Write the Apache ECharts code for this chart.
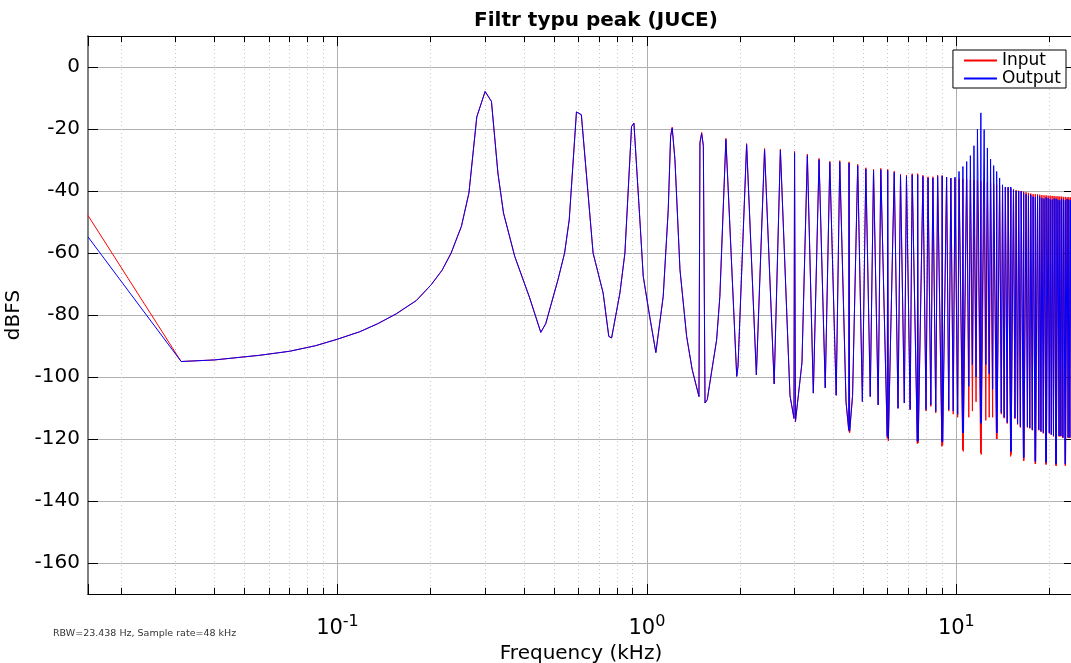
<!DOCTYPE html>
<html>
<head>
<meta charset="utf-8">
<script src="https://cdn.jsdelivr.net/npm/echarts@6.0.0/dist/echarts.min.js"></script>
<style>
  html, body { margin: 0; padding: 0; background: #fff; }
  #chart { width: 1071px; height: 663px; }
</style>
</head>
<body>
<div id="chart"></div>
<script>
// spectrum points (frequency in kHz, level in dBFS)
const freqKHz = [
  0.015625, 0.03125, 0.04, 0.056, 0.07, 0.085, 0.1, 0.118, 0.135, 0.155,
  0.18, 0.201, 0.218, 0.233, 0.2515, 0.266, 0.282, 0.3, 0.3145, 0.33,
  0.344, 0.374, 0.418, 0.454, 0.471, 0.516, 0.542, 0.561, 0.592, 0.614,
  0.637, 0.67, 0.722, 0.753, 0.769, 0.818, 0.849, 0.892, 0.908, 0.949,
  0.973, 1.023, 1.069, 1.08, 1.129, 1.172, 1.193, 1.207, 1.232, 1.279,
  1.344, 1.4, 1.473, 1.484, 1.503, 1.522, 1.541, 1.567, 1.62, 1.68,
  1.721, 1.8, 1.951, 1.97, 2.1, 2.258, 2.4, 2.578, 2.7, 2.9,
  2.987, 3.0, 3.02, 3.17, 3.3, 3.45, 3.6, 3.77, 3.9, 4.09,
  4.2, 4.4, 4.49, 4.5, 4.52, 4.62, 4.8, 4.97, 5.1, 5.27,
  5.4, 5.59, 5.7, 5.98, 6.0, 6.03, 6.3, 6.48, 6.6, 6.79,
  6.9, 7.09, 7.2, 7.48, 7.5, 7.53, 7.8, 7.98, 8.1, 8.27,
  8.4, 8.58, 8.7, 8.98, 9.0, 9.03, 9.3, 9.45, 9.6, 9.77,
  9.9, 10.1, 10.2, 10.48, 10.5, 10.53, 10.8, 10.97, 11.1, 11.27,
  11.4, 11.58, 11.7, 11.98, 12.0, 12.03, 12.3, 12.45, 12.6, 12.77,
  12.9, 13.1, 13.2, 13.48, 13.5, 13.53, 13.8, 13.97, 14.1, 14.27,
  14.4, 14.6, 14.7, 14.98, 15.0, 15.03, 15.3, 15.47, 15.6, 15.77,
  15.9, 16.1, 16.2, 16.48, 16.5, 16.53, 16.8, 16.97, 17.1, 17.27,
  17.4, 17.6, 17.7, 17.98, 18.0, 18.03, 18.3, 18.47, 18.6, 18.77,
  18.9, 19.1, 19.2, 19.48, 19.5, 19.53, 19.8, 19.97, 20.1, 20.27,
  20.4, 20.6, 20.7, 20.98, 21.0, 21.03, 21.3, 21.47, 21.6, 21.77,
  21.9, 22.1, 22.2, 22.48, 22.5, 22.53, 22.8, 22.97, 23.1, 23.27,
  23.4, 23.6, 23.7, 23.98
];

const inputDb = [
  -47.9, -95.0, -94.5, -93.0, -91.7, -89.9, -87.8, -85.4, -82.8, -79.6,
  -75.3, -70.2, -65.5, -60.0, -51.4, -40.6, -16.1, -7.9, -11.1, -34.2,
  -47.1, -61.1, -74.5, -85.6, -82.8, -68.6, -60.0, -49.3, -14.5, -15.4,
  -34.2, -60.0, -72.9, -86.9, -87.4, -72.9, -60.0, -19.2, -18.1, -49.3,
  -67.5, -81.0, -92.1, -92.1, -74.0, -46.0, -22.2, -19.4, -29.9, -65.4,
  -86.9, -97.5, -106.3, -24.2, -21.1, -25.3, -108.4, -107.3, -98.0, -88.0,
  -74.0, -23.0, -99.8, -96.5, -24.7, -99.3, -26.3, -102.2, -26.5, -106.0,
  -113.5, -27.2, -114.5, -95.4, -28.1, -105.2, -29.5, -103.5, -30.4, -105.9,
  -30.2, -108.0, -117.5, -30.6, -118.0, -106.0, -31.4, -107.9, -32.5, -106.3,
  -33.0, -109.0, -32.7, -119.8, -33.0, -120.6, -33.6, -110.1, -34.6, -108.4,
  -34.9, -110.5, -34.4, -121.5, -34.4, -121.3, -34.9, -111.0, -35.4, -109.5,
  -35.4, -111.6, -34.9, -122.4, -35.0, -122.0, -35.6, -111.0, -35.9, -112.0,
  -36.0, -113.0, -36.0, -123.5, -36.1, -124.0, -36.2, -113.0, -36.3, -111.0,
  -36.5, -108.0, -36.6, -124.5, -36.8, -125.0, -37.0, -114.0, -37.2, -113.0,
  -37.5, -113.0, -37.8, -120.0, -38.0, -120.0, -38.3, -112.0, -38.6, -113.3,
  -38.8, -115.0, -39.0, -125.6, -39.2, -125.0, -39.5, -113.5, -39.7, -115.3,
  -39.9, -116.3, -40.0, -127.0, -40.2, -127.0, -40.4, -116.3, -40.6, -116.6,
  -40.8, -117.2, -41.0, -128.0, -41.0, -128.0, -41.1, -117.2, -41.2, -117.7,
  -41.3, -118.2, -41.4, -128.2, -41.4, -128.2, -41.5, -118.2, -41.5, -118.7,
  -41.6, -119.2, -41.6, -128.6, -41.7, -128.6, -41.7, -119.2, -41.8, -119.2,
  -41.8, -119.7, -41.9, -128.6, -41.9, -128.6, -42.0, -119.7, -42.0, -119.7,
  -42.1, -120.2, -42.1, -128.6
];

const outputDb = [
  -54.8, -95.0, -94.5, -93.0, -91.7, -89.9, -87.8, -85.4, -82.8, -79.6,
  -75.3, -70.2, -65.5, -60.0, -51.4, -40.6, -16.1, -7.9, -11.1, -34.2,
  -47.1, -61.1, -74.5, -85.6, -82.8, -68.6, -60.0, -49.3, -14.5, -15.4,
  -34.2, -60.0, -72.9, -86.9, -87.4, -72.9, -60.0, -19.2, -18.1, -49.3,
  -67.5, -81.0, -92.1, -92.1, -74.0, -46.0, -22.4, -19.7, -29.9, -65.4,
  -86.9, -97.5, -106.3, -24.5, -21.5, -25.6, -108.4, -107.3, -98.0, -88.0,
  -74.0, -23.4, -99.8, -96.5, -25.1, -99.3, -26.7, -102.2, -26.9, -106.0,
  -113.2, -27.7, -114.3, -95.4, -28.6, -105.2, -29.9, -103.5, -30.8, -105.9,
  -30.6, -108.0, -117.0, -31.0, -117.5, -106.0, -31.8, -107.9, -32.9, -106.3,
  -33.4, -109.0, -33.1, -119.2, -33.4, -120.0, -34.0, -110.1, -35.0, -108.4,
  -35.3, -110.5, -34.8, -120.8, -34.8, -120.5, -35.3, -110.5, -35.8, -109.0,
  -35.8, -111.1, -35.3, -120.8, -35.1, -121.0, -35.5, -110.5, -35.8, -111.0,
  -35.5, -112.0, -33.7, -118.0, -32.1, -118.0, -30.5, -103.0, -28.6, -96.0,
  -25.4, -100.0, -20.0, -114.7, -14.8, -115.0, -20.2, -96.0, -26.1, -99.0,
  -29.7, -104.0, -31.8, -118.0, -33.7, -118.0, -35.8, -111.5, -38.0, -113.0,
  -38.7, -114.7, -38.7, -124.0, -38.7, -124.0, -39.6, -113.2, -40.0, -115.0,
  -40.0, -116.0, -40.1, -126.0, -40.5, -126.0, -41.0, -116.0, -41.5, -116.4,
  -41.2, -117.0, -41.8, -127.2, -42.0, -127.2, -41.5, -117.0, -41.8, -117.5,
  -42.3, -118.0, -42.5, -127.5, -42.0, -127.5, -42.3, -118.0, -42.6, -118.5,
  -42.8, -119.0, -42.4, -128.0, -42.5, -128.0, -42.8, -119.0, -43.0, -119.0,
  -42.5, -119.5, -42.8, -128.0, -43.0, -128.0, -42.6, -119.5, -42.8, -119.5,
  -43.0, -120.0, -42.8, -128.0
];

// axis ranges and the dotted minor grid positions of the log axis
const xMinKHz = 0.015625;
const xMaxKHz = 24;
const yMinDb = -170;
const yMaxDb = 10;
const minorTickKHz = [
  0.02, 0.03, 0.04, 0.05, 0.06, 0.07, 0.08, 0.09,
  0.2, 0.3, 0.4, 0.5, 0.6, 0.7, 0.8, 0.9,
  2, 3, 4, 5, 6, 7, 8, 9,
  20
];

const FONT = 'DejaVu Sans';

let chart = echarts.init(document.getElementById('chart'));

let minorLines = [];
minorTickKHz.forEach(f => {
    minorLines.push({
        xAxis: f,
        lineStyle: {color: '#c4c4c4', width: 1, type: [1, 3]}
    });
    minorLines.push([
        {coord: [f, yMaxDb], lineStyle: {color: '#000', width: 1, type: 'solid'}},
        {coord: [f, yMaxDb - 2]}
    ]);
    minorLines.push([
        {coord: [f, yMinDb], lineStyle: {color: '#000', width: 1, type: 'solid'}},
        {coord: [f, yMinDb + 2]}
    ]);
});

function decadeLabel(v) {
    let e = Math.log10(v);
    let r = Math.round(e);
    if (Math.abs(e - r) > 1e-6) {
        return '';
    }
    return '{b|10}{s|' + r + '}';
}

chart.setOption({
    animation: false,
    backgroundColor: '#fff',
    title: {
        text: 'Filtr typu peak (JUCE)',
        left: 591,
        top: 6,
        textAlign: 'center',
        textStyle: {
            fontFamily: FONT,
            fontSize: 20,
            fontWeight: 'bold',
            color: '#000'
        }
    },
    legend: {
        data: ['Input', 'Output'],
        orient: 'vertical',
        right: 5,
        top: 50,
        backgroundColor: '#fff',
        borderColor: '#000',
        borderWidth: 1,
        borderRadius: 0,
        padding: [2, 5, 1, 11],
        itemGap: 1,
        itemWidth: 33,
        itemHeight: 2,
        icon: 'rect',
        textStyle: {
            fontFamily: FONT,
            fontSize: 17,
            color: '#000'
        }
    },
    grid: {
        left: 88,
        top: 36,
        right: -3,
        bottom: 69,
        containLabel: false,
        outerBoundsMode: 'none'
    },
    xAxis: [
        {
            type: 'log',
            logBase: 10,
            min: xMinKHz,
            max: xMaxKHz,
            position: 'bottom',
            name: 'Frequency (kHz)',
            nameLocation: 'middle',
            nameGap: 46,
            nameTextStyle: {fontFamily: FONT, fontSize: 20, color: '#000'},
            axisLine: {onZero: false, lineStyle: {color: '#000', width: 1}},
            axisTick: {inside: true, length: 10, lineStyle: {color: '#000'}},
            axisLabel: {
                margin: 20,
                formatter: decadeLabel,
                rich: {
                    b: {fontFamily: FONT, fontSize: 21, color: '#000', verticalAlign: 'bottom'},
                    s: {fontFamily: FONT, fontSize: 16, color: '#000', verticalAlign: 'bottom', padding: [0, 0, 9, 0]}
                }
            },
            splitLine: {show: true, lineStyle: {color: '#b0b0b0', width: 1}}
        },
        {
            type: 'log',
            logBase: 10,
            min: xMinKHz,
            max: xMaxKHz,
            position: 'top',
            axisLine: {onZero: false, lineStyle: {color: '#000', width: 1}},
            axisTick: {inside: true, length: 10, lineStyle: {color: '#000'}},
            axisLabel: {show: false},
            splitLine: {show: false}
        }
    ],
    yAxis: [
        {
            type: 'value',
            min: yMinDb,
            max: yMaxDb,
            splitNumber: 9,
            position: 'left',
            name: 'dBFS',
            nameLocation: 'middle',
            nameRotate: 90,
            nameGap: 50,
            nameTextStyle: {fontFamily: FONT, fontSize: 20, color: '#000'},
            axisLine: {show: true, onZero: false, lineStyle: {color: '#808080', width: 2}},
            axisTick: {show: true, inside: true, length: 10, lineStyle: {color: '#000'}},
            axisLabel: {
                margin: 8,
                fontFamily: FONT,
                fontSize: 20,
                color: '#000',
                formatter: v => (v % 20 === 0 ? String(v) : '')
            },
            splitLine: {show: true, lineStyle: {color: '#b0b0b0', width: 1}}
        },
        {
            type: 'value',
            min: yMinDb,
            max: yMaxDb,
            splitNumber: 9,
            position: 'right',
            axisLine: {show: true, onZero: false, lineStyle: {color: '#000'}},
            axisTick: {show: true, inside: true, length: 10, lineStyle: {color: '#000'}},
            axisLabel: {show: false},
            splitLine: {show: false}
        }
    ],
    graphic: [
        {
            type: 'text',
            left: 53,
            top: 629,
            style: {
                text: 'RBW=23.438 Hz, Sample rate=48 kHz',
                fontFamily: FONT,
                fontSize: 9.5,
                fill: '#333'
            }
        }
    ],
    series: [
        {
            name: 'minorGrid',
            type: 'line',
            data: [],
            silent: true,
            z: 1,
            markLine: {
                silent: true,
                z: 1,
                symbol: ['none', 'none'],
                label: {show: false},
                animation: false,
                data: minorLines
            }
        },
        {
            name: 'Input',
            type: 'line',
            data: freqKHz.map((f, i) => [f, inputDb[i]]),
            showSymbol: false,
            color: '#ff0000',
            lineStyle: {color: '#ff0000', width: 1},
            z: 3
        },
        {
            name: 'Output',
            type: 'line',
            data: freqKHz.map((f, i) => [f, outputDb[i]]),
            showSymbol: false,
            color: '#0000ff',
            lineStyle: {color: '#0000ff', width: 1},
            z: 4
        }
    ]
});
</script>
</body>
</html>
